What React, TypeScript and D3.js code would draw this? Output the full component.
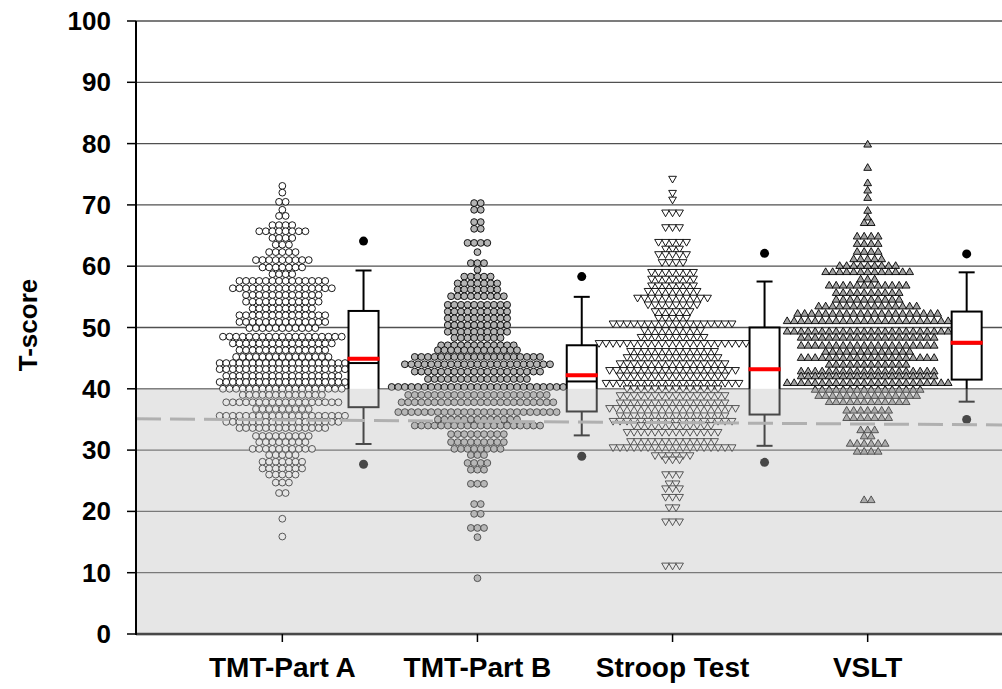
import React from "react";
import * as d3 from "d3";

const categories = ["TMT-Part A", "TMT-Part B", "Stroop Test", "VSLT"];
const yTicks = [0, 10, 20, 30, 40, 50, 60, 70, 80, 90, 100];

// each swarm is a stack of rows: T-score of the row, number of subjects on it
const tmtAValues = [73.1, 72, 70.5, 69.2, 68.2, 66.7, 65.7, 64.6, 63.5, 62.3, 61, 59.8, 58.7, 57.6, 56.4, 55.3, 54.2, 53.1, 52, 50.9, 49.9, 48.5, 47.4, 46.3, 45.2, 44.2, 43.2, 42.1, 41.1, 40, 39, 37.8, 36.7, 35.6, 34.6, 33.6, 32.3, 31.3, 30.2, 29.2, 28.1, 27, 26, 24.7, 23, 18.8, 15.9];
const tmtACounts = [1, 1, 2, 1, 2, 4, 8, 4, 3, 5, 9, 7, 4, 14, 16, 12, 12, 10, 14, 14, 11, 19, 16, 14, 15, 20, 20, 18, 20, 19, 13, 18, 9, 20, 18, 14, 9, 8, 10, 5, 7, 7, 5, 3, 2, 1, 1];

const tmtBValues = [70.3, 69.2, 67.2, 66.1, 63.8, 62.3, 60.5, 59.4, 58.3, 57.2, 56.2, 55.1, 53.7, 52.6, 51.5, 50.4, 49.3, 48.3, 47.1, 46.3, 45.2, 44, 42.8, 41.6, 40.3, 39, 37.8, 36.2, 35, 34, 32.6, 31.3, 30.2, 29.2, 27.9, 26.8, 24.5, 21.2, 19.6, 17.3, 15.8, 9.1];
const tmtBCounts = [2, 2, 2, 2, 4, 1, 3, 1, 5, 7, 7, 9, 10, 10, 10, 10, 10, 8, 12, 13, 20, 23, 20, 16, 27, 22, 24, 25, 13, 20, 9, 9, 8, 3, 4, 3, 3, 2, 2, 3, 1, 1];

const stroopValues = [74.3, 72, 70.9, 68.8, 66.4, 64, 62.9, 62, 60.7, 59.1, 58, 56.9, 56, 54.9, 53.8, 52.7, 51.6, 50.7, 49.6, 48.5, 47.5, 46.2, 45.2, 44.2, 43.1, 42.2, 41, 40.1, 39, 37.8, 36.9, 35.7, 34.8, 34.1, 33, 31.5, 30.5, 29.2, 28.5, 26.1, 24.6, 23.8, 22.4, 20.7, 18.4, 11.2];
const stroopCounts = [1, 1, 1, 3, 3, 5, 3, 5, 4, 7, 7, 7, 8, 11, 8, 6, 5, 18, 9, 10, 22, 13, 14, 16, 19, 16, 20, 14, 16, 16, 19, 16, 18, 12, 14, 13, 18, 6, 3, 3, 2, 3, 3, 2, 3, 3];

const vsltValues = [79.8, 76, 73.5, 72.3, 71.1, 69, 67.9, 67, 64.8, 63.6, 62.3, 61.1, 60, 59, 57.8, 56.8, 55.6, 54.5, 53.4, 52.2, 51, 49.3, 48.3, 47, 46, 45, 43.9, 42.8, 42, 40.9, 39.8, 38.8, 37.8, 36.4, 35.2, 33.2, 32.2, 31, 29.7, 21.8];
const vsltCounts = [1, 1, 1, 1, 1, 1, 1, 2, 4, 4, 4, 5, 9, 13, 3, 12, 10, 10, 15, 21, 24, 24, 20, 20, 13, 20, 12, 20, 20, 24, 16, 15, 12, 7, 7, 3, 2, 6, 4, 2];

// box plot summary per test
const boxQ1 = [37, 36.3, 35.8, 41.5];
const boxQ3 = [52.7, 47.1, 50, 52.6];
const boxMedian = [44.2, 41.2, 43.1, 47.4];
const boxMean = [44.9, 42.2, 43.2, 47.5];
const whiskerLow = [31, 32.4, 30.7, 37.9];
const whiskerHigh = [59.3, 55, 57.5, 59];
const pct5 = [27.7, 29, 28, 35];
const pct95 = [64.1, 58.3, 62.1, 62];

const impairedCut = 40;
const dashStart = 35.1;
const dashEnd = 34.1;

const width = 1002,
  height = 689;
const left = 136,
  right = 1002,
  top = 21,
  bottom = 634;

const series = [
  { values: tmtAValues, counts: tmtACounts, shape: "circle", fill: "#ffffff", step: 6.6 },
  { values: tmtBValues, counts: tmtBCounts, shape: "circle", fill: "#b4b4b4", step: 6.6 },
  { values: stroopValues, counts: stroopCounts, shape: "down", fill: "#ffffff", step: 7 },
  { values: vsltValues, counts: vsltCounts, shape: "up", fill: "#a0a0a0", step: 7 },
];

const font = "'Liberation Sans', Arial, sans-serif";

export default function App() {
  const x = d3.scalePoint<string>().domain(categories).range([left, right + 12]).padding(0.75);
  const y = d3.scaleLinear().domain([0, 100]).range([bottom, top]);
  const tri = d3.symbol().type(d3.symbolTriangle).size(26)()!;

  return (
    <svg
      width={width}
      height={height}
      style={{ position: "absolute", left: 0, top: 0, background: "#fff" }}
    >
      {/* grid */}
      {yTicks.slice(1).map((t) => (
        <line key={t} x1={left} x2={right} y1={y(t)} y2={y(t)} stroke="#505050" strokeWidth={1.3} />
      ))}
      {/* x axis line (sits under the shaded band) */}
      <line x1={left} x2={right} y1={bottom} y2={bottom} stroke="#000" strokeWidth={2.5} />

      {series.map((s, ci) => {
        const cx = x(categories[ci])!;
        return (
          <g key={ci}>
            {s.values.map((v, ri) => {
              const n = s.counts[ri];
              return d3.range(n).map((i) => {
                const px = cx + (i - (n - 1) / 2) * s.step;
                const py = y(v);
                if (s.shape === "circle")
                  return <circle key={ri + "-" + i} cx={px} cy={py} r={3.4} fill={s.fill} stroke="#000" strokeWidth={0.9} />;
                return (
                  <path
                    key={ri + "-" + i}
                    d={tri}
                    transform={`translate(${px},${py})` + (s.shape === "down" ? " rotate(180)" : "")}
                    fill={s.fill}
                    stroke="#000"
                    strokeWidth={0.9}
                  />
                );
              });
            })}
          </g>
        );
      })}

      {/* box plots, placed just right of each swarm */}
      {categories.map((c, ci) => {
        const s = series[ci];
        const half = ((d3.max(s.counts)! - 1) * s.step) / 2 + 3.5;
        const bx = x(c)! + half;
        const bw = 30;
        const mid = bx + bw / 2;
        return (
          <g key={c}>
            <line x1={mid} x2={mid} y1={y(whiskerHigh[ci])} y2={y(boxQ3[ci])} stroke="#000" strokeWidth={2} />
            <line x1={mid} x2={mid} y1={y(boxQ1[ci])} y2={y(whiskerLow[ci])} stroke="#000" strokeWidth={2} />
            <line x1={mid - 8} x2={mid + 8} y1={y(whiskerHigh[ci])} y2={y(whiskerHigh[ci])} stroke="#000" strokeWidth={2} />
            <line x1={mid - 8} x2={mid + 8} y1={y(whiskerLow[ci])} y2={y(whiskerLow[ci])} stroke="#000" strokeWidth={2} />
            <rect x={bx} y={y(boxQ3[ci])} width={bw} height={y(boxQ1[ci]) - y(boxQ3[ci])} fill="#fff" stroke="#000" strokeWidth={2} />
            <line x1={bx} x2={bx + bw} y1={y(boxMedian[ci])} y2={y(boxMedian[ci])} stroke="#000" strokeWidth={2} />
            <line x1={bx - 1} x2={bx + bw + 1} y1={y(boxMean[ci])} y2={y(boxMean[ci])} stroke="#ff0000" strokeWidth={4} />
            <circle cx={mid} cy={y(pct95[ci])} r={4.5} fill="#000" />
            <circle cx={mid} cy={y(pct5[ci])} r={4.5} fill="#000" />
          </g>
        );
      })}

      {/* shaded impaired range */}
      <rect
        x={left}
        y={y(impairedCut)}
        width={right - left}
        height={y(0) - y(impairedCut) + 1.5}
        fill="rgb(190,190,190)"
        fillOpacity={0.38}
      />
      <line
        x1={left}
        x2={right}
        y1={y(dashStart)}
        y2={y(dashEnd)}
        stroke="#b0b0b0"
        strokeWidth={3}
        strokeDasharray="25,9"
      />

      {/* y axis */}
      <line x1={left} x2={left} y1={top} y2={bottom + 1} stroke="#000" strokeWidth={2} />
      {yTicks.map((t) => (
        <g key={t}>
          <line x1={left - 9} x2={left} y1={y(t)} y2={y(t)} stroke="#000" strokeWidth={1.5} />
          <text x={111} y={y(t) + 9} textAnchor="end" fontFamily={font} fontWeight="bold" fontSize={26} fill="#000">
            {t}
          </text>
        </g>
      ))}
      <text
        transform={`translate(37,325) rotate(-90)`}
        textAnchor="middle"
        fontFamily={font}
        fontWeight="bold"
        fontSize={26}
      >
        T-score
      </text>

      {/* x axis */}
      {categories.map((c) => (
        <g key={c}>
          <line x1={x(c)} x2={x(c)} y1={bottom} y2={bottom + 8} stroke="#000" strokeWidth={1.5} />
          <text x={x(c)} y={677} textAnchor="middle" fontFamily={font} fontWeight="bold" fontSize={28}>
            {c}
          </text>
        </g>
      ))}
    </svg>
  );
}
